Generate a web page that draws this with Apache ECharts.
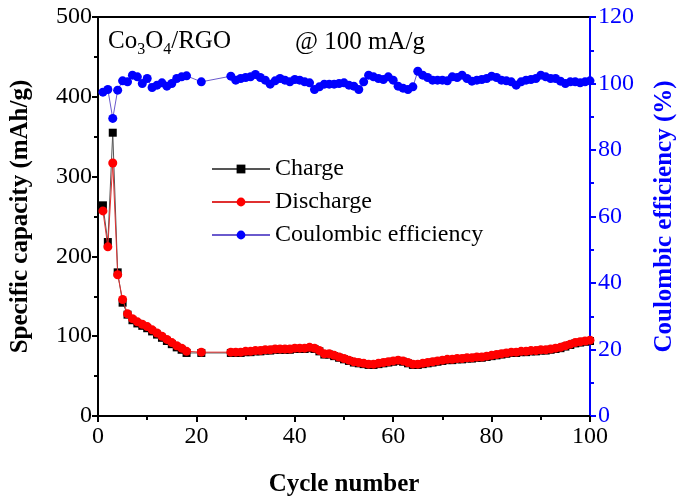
<!DOCTYPE html>
<html>
<head>
<meta charset="utf-8">
<script src="https://cdn.jsdelivr.net/npm/echarts@6/dist/echarts.min.js"></script>
<style>
html,body{margin:0;padding:0;background:#fff;}
#chart{width:685px;height:502px;}
</style>
</head>
<body>
<div id="chart"></div>
<script>
var cycles = [1,2,3,4,5,6,7,8,9,10,11,12,13,14,15,16,17,18,21,
  27,28,29,30,31,32,33,34,35,36,37,38,39,40,41,42,43,44,45,46,47,48,49,50,
  51,52,53,54,55,56,57,58,59,60,61,62,63,64,65,66,67,68,69,70,71,72,73,74,75,
  76,77,78,79,80,81,82,83,84,85,86,87,88,89,90,91,92,93,94,95,96,97,98,99,100];
var charge = [264,218,355,180,142,127,120,116,113,110,106,102,98,94,90,86,83,79,79,
  79,79,79,80,80,81,81,82,82,83,83,83,83,84,84,84,85,84,81,77,77,75,73,71,
  69,67,66,65,64,64,65,66,67,68,69,68,66,64,64,65,66,67,68,69,70,70,71,71,72,
  72,73,73,74,75,76,77,78,79,79,80,80,81,81,82,82,83,84,85,87,89,91,92,93,94];
var discharge = [257,212,317,177,146,128,122,118,115,112,108,104,100,96,92,88,85,81,80,
  80,80,80,81,81,82,82,83,83,84,84,84,84,85,85,85,86,85,82,78,78,76,74,72,
  70,68,67,66,65,65,66,67,68,69,70,69,67,65,65,66,67,68,69,70,71,71,72,72,73,
  73,74,74,75,76,77,78,79,80,80,81,81,82,82,83,83,84,85,86,88,90,92,93,94,95];
var efficiency = [97.4,98.2,89.5,98.0,100.8,100.5,102.5,102.0,100.0,101.5,98.8,99.5,100.2,99.2,100.0,101.5,102.0,102.3,100.5,
  102.2,101.0,101.5,101.8,102.0,102.7,101.8,101.0,99.8,100.8,101.5,101.0,100.5,101.2,101.0,100.5,100.2,98.2,99.0,99.8,99.8,99.8,100.0,100.2,
  99.5,99.2,98.2,100.5,102.5,102.0,101.5,101.2,102.0,101.0,99.2,98.6,98.2,99.0,103.7,102.5,101.8,101.0,101.0,101.0,100.8,102.0,101.8,102.5,101.5,100.7,
  101.0,101.2,101.5,102.2,101.8,101.0,100.8,100.5,99.5,100.5,101.0,101.2,101.5,102.5,102.0,101.5,101.5,100.7,100.0,100.5,100.5,100.2,100.5,100.8];

function pairs(xs, ys){ var r=[]; for(var i=0;i<xs.length;i++){ r.push([xs[i], ys[i]]); } return r; }

var serif = 'Liberation Serif';
var chart = echarts.init(document.getElementById('chart'));
chart.setOption({
  animation:false,
  backgroundColor:'#fff',
  textStyle:{fontFamily:serif},
  grid:{left:96,right:92,top:17,bottom:86,show:true,borderColor:'#000',borderWidth:2},
  legend:{
    orient:'vertical', left:206, top:152, itemGap:9, itemWidth:58, itemHeight:11,
    textStyle:{fontFamily:serif,fontSize:24,color:'#000'},
    data:['Charge','Discharge','Coulombic efficiency']
  },
  xAxis:{
    type:'value', min:0, max:100, interval:20,
    name:'Cycle number', nameLocation:'middle', nameGap:56,
    nameTextStyle:{fontFamily:serif,fontSize:25,fontWeight:'bold',color:'#000'},
    axisLine:{lineStyle:{color:'#000',width:2}},
    axisTick:{show:true,inside:false,length:6,lineStyle:{color:'#000',width:2}},
    minorTick:{show:true,splitNumber:2,length:4,lineStyle:{color:'#000',width:2}},
    axisLabel:{fontFamily:serif,fontSize:24,color:'#000',margin:9},
    splitLine:{show:false}
  },
  yAxis:[{
    type:'value', min:0, max:500, interval:100, position:'left',
    name:'Specific capacity (mAh/g)', nameLocation:'middle', nameGap:65, nameRotate:90,
    nameTextStyle:{fontFamily:serif,fontSize:25,fontWeight:'bold',color:'#000'},
    axisLine:{show:true,lineStyle:{color:'#000',width:2}},
    axisTick:{show:true,inside:false,length:6,lineStyle:{color:'#000',width:2}},
    minorTick:{show:true,splitNumber:2,length:4,lineStyle:{color:'#000',width:2}},
    axisLabel:{fontFamily:serif,fontSize:24,color:'#000',margin:6},
    splitLine:{show:false}
  },{
    type:'value', min:0, max:120, interval:20, position:'right',
    name:'Coulombic efficiency (%)', nameLocation:'middle', nameGap:62, nameRotate:90,
    nameTextStyle:{fontFamily:serif,fontSize:25,fontWeight:'bold',color:'#0000ff'},
    axisLine:{show:true,lineStyle:{color:'#0000ff',width:2}},
    axisTick:{show:true,inside:false,length:6,lineStyle:{color:'#0000ff',width:2}},
    minorTick:{show:true,splitNumber:2,length:4,lineStyle:{color:'#0000ff',width:2}},
    axisLabel:{fontFamily:serif,fontSize:24,color:'#0000ff',margin:8},
    splitLine:{show:false}
  }],
  graphic:[
    {type:'text', left:108, top:29, style:{
      text:'{n|Co}{s|3}{n|O}{s|4}{n|/RGO}',
      rich:{n:{fontFamily:serif,fontSize:25,fill:'#000'},s:{fontFamily:serif,fontSize:16,fill:'#000',padding:[16,0,0,0]}}
    }},
    {type:'text', left:295, top:30, style:{text:'@ 100 mA/g', fontFamily:serif, fontSize:25, fill:'#000'}}
  ],
  series:[
    {name:'Charge', type:'line', yAxisIndex:0, data:pairs(cycles, charge),
      symbol:'rect', symbolSize:8, itemStyle:{color:'#000'},
      lineStyle:{color:'#555',width:1}, z:2},
    {name:'Discharge', type:'line', yAxisIndex:0, data:pairs(cycles, discharge),
      symbol:'circle', symbolSize:9, itemStyle:{color:'#ff0000'},
      lineStyle:{color:'#e03030',width:1}, z:3},
    {name:'Coulombic efficiency', type:'line', yAxisIndex:1, data:pairs(cycles, efficiency),
      symbol:'circle', symbolSize:9, itemStyle:{color:'#0000ff'},
      lineStyle:{color:'#6a5acd',width:1}, z:4}
  ]
});
</script>
</body>
</html>
